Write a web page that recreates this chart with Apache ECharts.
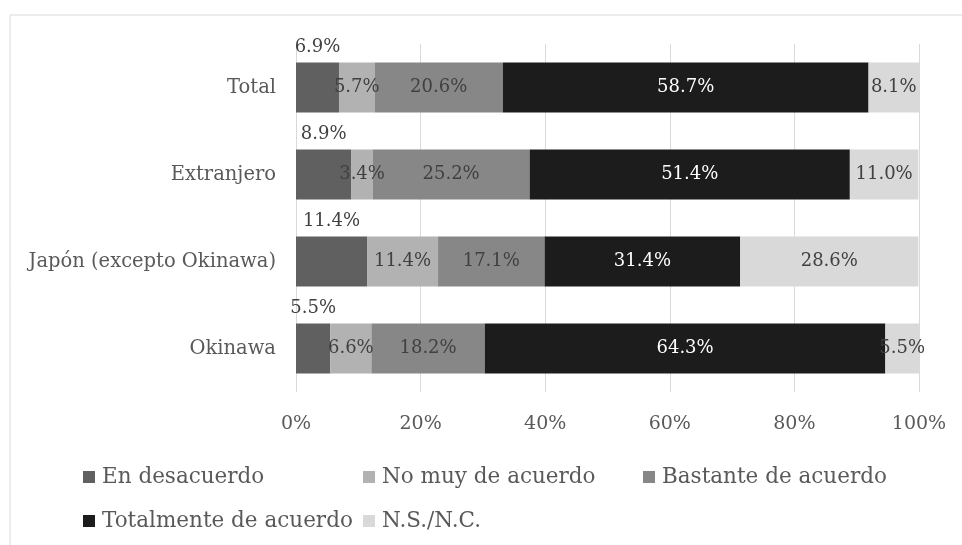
<!DOCTYPE html>
<html lang="es">
<head>
    <meta charset="UTF-8">
    <title>Acuerdo por origen</title>
    <script src="https://cdn.jsdelivr.net/npm/echarts@6/dist/echarts.min.js"></script>
    <style>
        html, body { margin: 0; padding: 0; background: #fff; }
    </style>
</head>
<body>
<div id="main" style="width: 962px; height: 545px"></div>
<script>
    // categorias de arriba a abajo
    let categories = ['Total', 'Extranjero', 'Japón (excepto Okinawa)', 'Okinawa'];
    let seriesNames = ['En desacuerdo', 'No muy de acuerdo', 'Bastante de acuerdo', 'Totalmente de acuerdo', 'N.S./N.C.'];
    let enDesacuerdo = [6.9, 8.9, 11.4, 5.5];
    let noMuy = [5.7, 3.4, 11.4, 6.6];
    let bastante = [20.6, 25.2, 17.1, 18.2];
    let totalmente = [58.7, 51.4, 31.4, 64.3];
    let nsnc = [8.1, 11.0, 28.6, 5.5];
    let xTicks = [0, 20, 40, 60, 80, 100];

    let colors = ['#606060', '#b2b2b2', '#878787', '#1c1c1c', '#d9d9d9'];
    let values = [enDesacuerdo, noMuy, bastante, totalmente, nsnc];
    let font = 'DejaVu Serif';

    let series = seriesNames.map(function (name, i) {
        return {
            name: name,
            type: 'bar',
            stack: 'all',
            barWidth: 50,
            data: values[i],
            itemStyle: { color: colors[i] },
            label: {
                show: true,
                position: i === 0 ? 'top' : 'inside',
                distance: 6,
                color: i === 3 ? '#ffffff' : '#404040',
                fontFamily: font,
                fontSize: 18,
                formatter: function (p) { return p.value.toFixed(1) + '%'; }
            }
        };
    });

    // leyenda en columnas fijas como en el original
    let legendPos = [[83, 466], [363, 466], [643, 466], [83, 510], [363, 510]];
    let legends = seriesNames.map(function (name, i) {
        return {
            data: [name],
            left: legendPos[i][0],
            top: legendPos[i][1],
            padding: 0,
            itemWidth: 12,
            itemHeight: 12,
            icon: 'rect',
            selectedMode: false,
            textStyle: { fontFamily: font, fontSize: 21.5, color: '#595959', lineHeight: 22, padding: [0, 0, 0, 2] }
        };
    });

    let myChart = echarts.init(document.getElementById('main'));
    let option = {
        animation: false,
        backgroundColor: '#ffffff',
        color: colors,
        graphic: [{
            type: 'rect',
            shape: { x: 10, y: 15, width: 1000, height: 600 },
            style: { fill: 'none', stroke: '#d9d9d9', lineWidth: 1 },
            silent: true,
            z: -10
        }],
        legend: legends,
        grid: { left: 296, right: 43, top: 44, bottom: 153, containLabel: false },
        xAxis: {
            type: 'value',
            min: xTicks[0],
            max: xTicks[xTicks.length - 1],
            interval: 20,
            axisLine: { show: false },
            axisTick: { show: false },
            splitLine: { show: true, lineStyle: { color: '#d9d9d9', width: 1 } },
            axisLabel: {
                margin: 23,
                fontFamily: font,
                fontSize: 19,
                color: '#595959',
                formatter: function (v) { return v + '%'; }
            }
        },
        yAxis: {
            type: 'category',
            inverse: true,
            data: categories,
            axisLine: { show: false },
            axisTick: { show: false },
            axisLabel: {
                margin: 20,
                fontFamily: font,
                fontSize: 19.5,
                color: '#595959'
            }
        },
        series: series
    };
    myChart.setOption(option);
</script>
</body>
</html>
